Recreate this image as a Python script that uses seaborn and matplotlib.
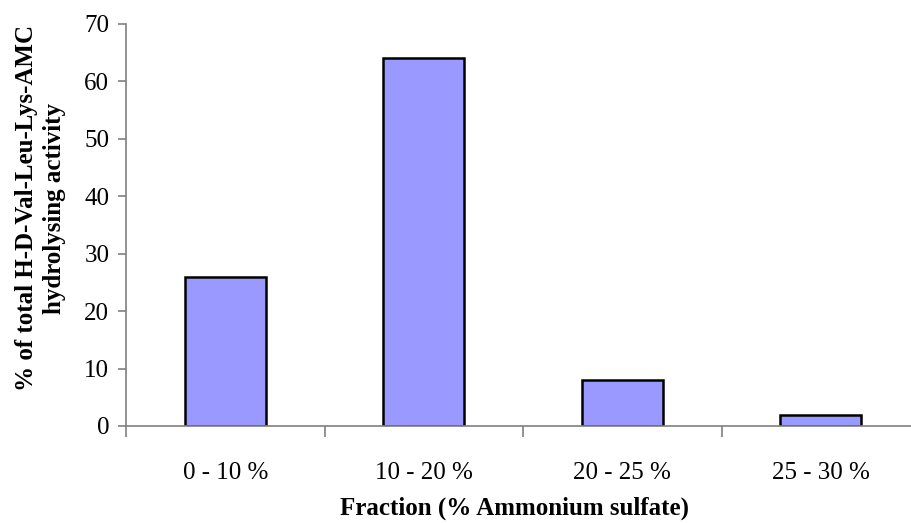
import matplotlib
matplotlib.use("Agg")
import matplotlib.pyplot as plt
import seaborn as sns
import pandas as pd
import numpy as np

categories = ["0 - 10 %", "10 - 20 %", "20 - 25 %", "25 - 30 %"]
values = [26, 64, 8, 2]
y_ticks = [0, 10, 20, 30, 40, 50, 60, 70]

sns.set_style("white")
plt.rcParams['font.family'] = ['Liberation Serif', 'DejaVu Serif']
plt.rcParams['text.color'] = 'black'
plt.rcParams['axes.labelcolor'] = 'black'
plt.rcParams['xtick.labelcolor'] = 'black'
plt.rcParams['ytick.labelcolor'] = 'black'

df = pd.DataFrame({"fraction": categories, "activity": values})

fig = plt.figure(figsize=(9.12, 5.23), dpi=100)
ax = fig.add_axes([126/912, 97/523, 794/912, 402/523])
sns.barplot(data=df, x="fraction", y="activity", ax=ax, color="#9999FF",
            saturation=1, width=0.41, edgecolor="black", linewidth=1.8)

ax.set_ylim(0, 70)
ax.set_xlim(-0.5, 3.5)
ax.set_yticks(y_ticks)
ax.set_yticklabels([str(t) for t in y_ticks], fontsize=18, color="black")
ax.set_xticks(range(len(categories)))
ax.set_xticklabels(categories, fontsize=18, color="black")
ax.set_xticks(np.arange(-0.5, 3.6, 1.0), minor=True)

axis_color = "#808080"
for s in ["top", "right"]:
    ax.spines[s].set_visible(False)
for s in ["left", "bottom"]:
    ax.spines[s].set_color(axis_color)
    ax.spines[s].set_linewidth(1.2)

ax.tick_params(axis="y", which="major", direction="out", length=6, width=1.2,
               color=axis_color, pad=6, left=True)
ax.tick_params(axis="x", which="major", length=0, pad=26)
ax.tick_params(axis="x", which="minor", direction="out", length=8, width=1.2,
               color=axis_color, bottom=True)

ax.set_xlabel("Fraction (% Ammonium sulfate)", fontsize=18, fontweight="bold", color="black")
ax.set_ylabel("% of total H-D-Val-Leu-Lys-AMC\nhydrolysing activity", fontsize=18,
              fontweight="bold", linespacing=1.25, color="black")
ax.xaxis.set_label_coords(0.5 - 8/794, -71/402)
ax.yaxis.set_label_coords(-60/794, (426-208)/402)

fig.savefig("out.png", dpi=100)
